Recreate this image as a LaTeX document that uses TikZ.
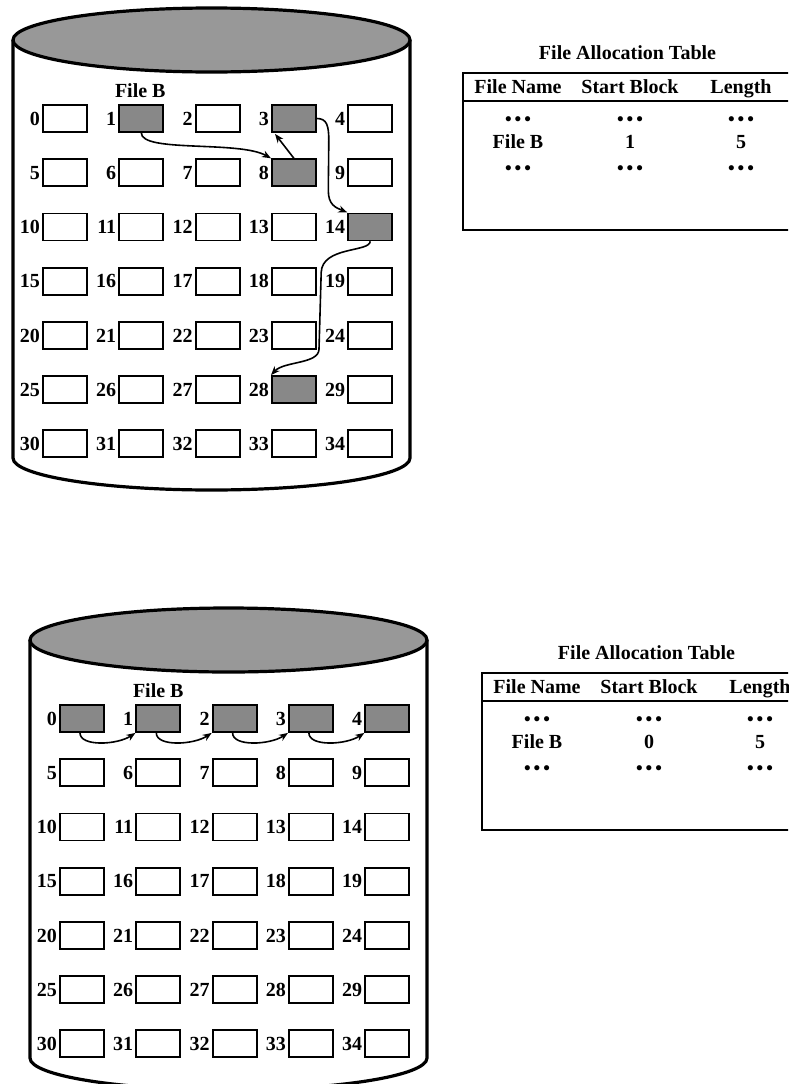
\documentclass[tikz,border=0pt]{standalone}
\usepackage{fontspec}
\setmainfont{Liberation Serif}
\usetikzlibrary{arrows.meta,calc}
\definecolor{diskgray}{RGB}{152,152,152}
\definecolor{blockgray}{RGB}{136,136,136}
\newcommand\tdots{{\fontsize{19}{19}\selectfont\textbullet\hspace{3pt}\textbullet\hspace{3pt}\textbullet}}
\begin{document}
\begin{tikzpicture}[x=1pt,y=-1pt,
  txt/.style={font=\fontsize{20}{24}\selectfont\bfseries, inner sep=0pt, text height=13.5pt, text depth=0pt},
  blk/.style={draw, line width=1.8pt, minimum width=44pt, minimum height=27pt, inner sep=0pt},
  num/.style={txt, anchor=east, xshift=-2pt},
  disk/.style={line width=3.2pt},
  arr/.style={line width=1.6pt, -{Stealth[length=9pt,width=7pt]}},
  tab/.style={line width=2.4pt},
  hline/.style={line width=2pt}]
\useasboundingbox (0,0) rectangle (788,1084);
\clip (0,0) rectangle (788,1084);
\fill[white] (0,0) rectangle (788,1084);

% ---------- top disk ----------
\draw[disk, fill=white] (13,40) -- (13,458) arc[start angle=180, end angle=360, x radius=198.5pt, y radius=32pt] -- (410,40);
\draw[disk, fill=diskgray] (211.5,40) ellipse[x radius=198.5pt, y radius=32pt];
\foreach \n in {0,...,34} {
  \pgfmathtruncatemacro\c{mod(\n,5)}
  \pgfmathtruncatemacro\r{div(\n,5)}
  \pgfmathtruncatemacro\u{(\n==1)||(\n==3)||(\n==8)||(\n==14)||(\n==28)}
  \ifnum\u=1 \def\fc{blockgray}\else\def\fc{white}\fi
  \node[blk, fill=\fc] (t\n) at ({65+76.3*\c},{118.5+54.2*\r}) {};
  \node[num] (tl\n) at (t\n.west) {\n};
}
\node[txt] (tfb) at ($(t1.north)+(-1,-13)$) {File B};
\draw[arr] (t1.south) .. controls ($(t1.south)+(0,20)$) and ($(t8.north west)+(-32,-18)$) .. (t8.north west);
\draw[arr] (t8.north) -- ($(t3.south west)+(4,1)$);
\draw[arr] (t3.east) .. controls ($(t3.east)+(10,0)$) and ($(t3.east)+(12,7)$) .. ($(t3.east)+(12,22)$)
  -- ($(t14.north west)+(-19,-22)$) .. controls ($(t14.north west)+(-19,-8)$) and ($(t14.north west)+(-12,-5)$) .. (t14.north west);
\draw[arr] (t14.south) .. controls ($(t14.south)+(0,11)$) and ($(t14.south)+(-48,5)$) .. ($(t14.south)+(-49,31)$)
  -- ($(t28.north west)+(48,-26)$) .. controls ($(t28.north west)+(48,-11)$) and ($(t28.north west)+(13,-14)$) .. (t28.north west);

% ---------- top table ----------
\node[txt] (tt) at (627.5,53) {File Allocation Table};
\draw[tab] (463,73) rectangle (800,230);
\draw[hline] (463,101) -- (800,101);
\node[txt] (th1) at (518,87) {File Name};
\node[txt] (th2) at (630,87) {Start Block};
\node[txt] (th3) at (741,87) {Length};
\node[txt] (ta1) at (518,119) {\tdots};
\node[txt] (ta2) at (630,119) {\tdots};
\node[txt] (ta3) at (741,119) {\tdots};
\node[txt] (tb1) at (518,142) {File B};
\node[txt] (tb2) at (630,142) {1};
\node[txt] (tb3) at (741,142) {5};
\node[txt] (tc1) at (518,168) {\tdots};
\node[txt] (tc2) at (630,168) {\tdots};
\node[txt] (tc3) at (741,168) {\tdots};

% ---------- bottom disk ----------
\begin{scope}[shift={(17,600)}]
\draw[disk, fill=white] (13,40) -- (13,458) arc[start angle=180, end angle=360, x radius=198.5pt, y radius=32pt] -- (410,40);
\draw[disk, fill=diskgray] (211.5,40) ellipse[x radius=198.5pt, y radius=32pt];
\foreach \n in {0,...,34} {
  \pgfmathtruncatemacro\c{mod(\n,5)}
  \pgfmathtruncatemacro\r{div(\n,5)}
  \ifnum\n<5 \def\fc{blockgray}\else\def\fc{white}\fi
  \node[blk, fill=\fc] (b\n) at ({65+76.3*\c},{118.5+54.2*\r}) {};
  \node[num] (bl\n) at (b\n.west) {\n};
}
\node[txt] (bfb) at ($(b1.north)+(0,-13)$) {File B};
\foreach \i [evaluate=\i as \j using int(\i+1)] in {0,...,3} {
  \draw[arr] ($(b\i.south)+(-2,0)$) .. controls ($(b\i.south)+(-2,14)$) and ($(b\j.south west)+(-18,12)$) .. (b\j.south west);
}
\end{scope}

% ---------- bottom table ----------
\begin{scope}[shift={(19,600)}]
\node[txt] (bt) at (627.5,53) {File Allocation Table};
\draw[tab] (463,73) rectangle (800,230);
\draw[hline] (463,101) -- (800,101);
\node[txt] (bh1) at (518,87) {File Name};
\node[txt] (bh2) at (630,87) {Start Block};
\node[txt] (bh3) at (741,87) {Length};
\node[txt] (ba1) at (518,119) {\tdots};
\node[txt] (ba2) at (630,119) {\tdots};
\node[txt] (ba3) at (741,119) {\tdots};
\node[txt] (bb1) at (518,142) {File B};
\node[txt] (bb2) at (630,142) {0};
\node[txt] (bb3) at (741,142) {5};
\node[txt] (bc1) at (518,168) {\tdots};
\node[txt] (bc2) at (630,168) {\tdots};
\node[txt] (bc3) at (741,168) {\tdots};
\end{scope}
\end{tikzpicture}
\end{document}
